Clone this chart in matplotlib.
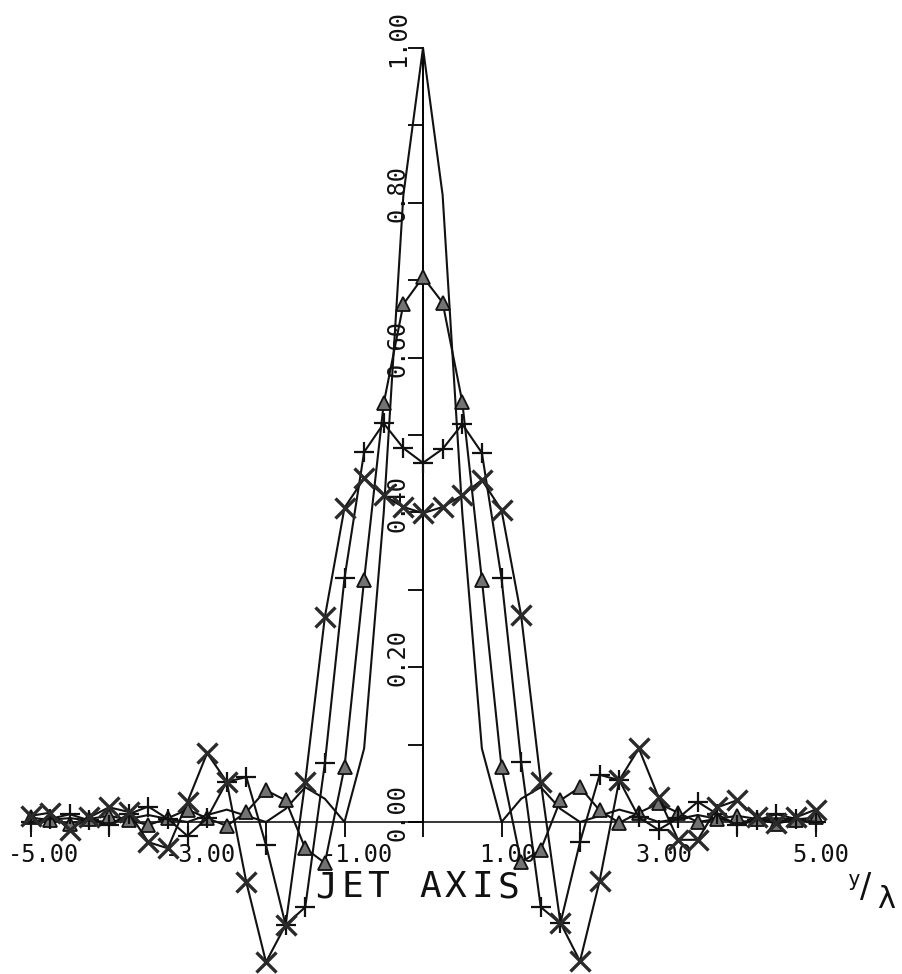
import numpy as np
import matplotlib
matplotlib.use('Agg')
import matplotlib.pyplot as plt

# positions across the jet, y/lambda
y_lam = np.arange(-5.0, 5.0 + 0.125, 0.25)

# plain line (no markers)
plain = [0.0, 0.003, 0.005, 0.002, 0.0, 0.004, 0.009, 0.004, 0.0, 0.009, 0.016, 0.008,
         0.0, 0.017, 0.045, 0.03, 0.0, 0.095, 0.40, 0.81, 1.0,
         0.81, 0.40, 0.095, 0.0, 0.03, 0.045, 0.017, 0.0, 0.008, 0.016, 0.009,
         0.0, 0.004, 0.009, 0.004, 0.0, 0.002, 0.005, 0.003, 0.0]

# triangles
tri = [0.006, 0.002, -0.002, 0.004, 0.008, 0.003, -0.004, 0.005, 0.016, 0.005, -0.005, 0.013,
       0.041, 0.028, -0.034, -0.053, 0.071, 0.313, 0.541, 0.669, 0.704,
       0.671, 0.543, 0.313, 0.071, -0.052, -0.036, 0.028, 0.045, 0.015, -0.001, 0.012,
       0.024, 0.012, 0.0, 0.004, 0.008, 0.004, -0.002, 0.003, 0.006]

# plus signs
plus = [0.0, 0.004, 0.010, 0.002, -0.004, 0.010, 0.020, 0.004, -0.018, 0.005, 0.052, 0.058,
        -0.030, -0.133, -0.110, 0.076, 0.315, 0.478, 0.515, 0.483, 0.464,
        0.482, 0.514, 0.477, 0.315, 0.078, -0.110, -0.131, -0.026, 0.061, 0.054, 0.006,
        -0.010, 0.005, 0.026, 0.010, -0.004, 0.002, 0.010, 0.004, 0.0]

# crosses
cross = [0.008, 0.012, -0.010, 0.006, 0.019, 0.013, -0.026, -0.034, 0.026, 0.089, 0.052, -0.078,
         -0.181, -0.133, 0.052, 0.265, 0.406, 0.444, 0.422, 0.407, 0.399,
         0.407, 0.422, 0.442, 0.403, 0.267, 0.052, -0.130, -0.180, -0.076, 0.054, 0.095,
         0.032, -0.023, -0.023, 0.019, 0.028, 0.006, -0.001, 0.006, 0.016]

x_tick_values = [-5, -3, -1, 1, 3, 5]
x_tick_labels = ['-5.00', '-3.00', '-1.00', '1.00', '3.00', '5.00']
y_tick_values = [0.0, 0.2, 0.4, 0.6, 0.8, 1.0]
y_tick_labels = ['0.00', '0.20', '0.40', '0.60', '0.80', '1.00']

W, H = 902, 974
X0, SX = 423.0, 78.5     # pixel of x=0, pixels per unit
Y0, SY = 822.0, 774.0    # pixel of y=0, pixels per unit

def px_x(p):
    return (p - X0) / SX

def px_y(p):
    return (Y0 - p) / SY

fig = plt.figure(figsize=(W / 100, H / 100), dpi=100)
ax = fig.add_axes([0, 0, 1, 1])
ax.set_xlim(px_x(0), px_x(W))
ax.set_ylim(px_y(H), px_y(0))

ax.spines['top'].set_visible(False)
ax.spines['right'].set_visible(False)
ax.spines['left'].set_position(('data', 0))
ax.spines['bottom'].set_position(('data', 0))
ax.spines['left'].set_bounds(0, 1.0)
ax.spines['bottom'].set_bounds(-5, 5)
ax.spines['left'].set_linewidth(1.4)
ax.spines['bottom'].set_linewidth(1.1)
ax.set_xticks(np.arange(-5, 6, 1))
ax.set_xticklabels([])
ax.set_yticks(np.arange(0, 1.05, 0.1))
ax.set_yticklabels([])
ax.tick_params(axis='both', direction='out', length=11, width=1.3)

lc = '#111111'
ax.plot(y_lam, plain, color=lc, lw=1.5, zorder=3)
ax.plot(y_lam, tri, color=lc, lw=1.5, marker='^', ms=10, mfc='0.45', mec=lc, mew=1.3, zorder=4)
ax.plot(y_lam, plus, color=lc, lw=1.5, marker='+', ms=14, mew=1.6, zorder=4)
ax.plot(y_lam, cross, color=lc, lw=1.5, marker='x', ms=14, mew=2.4, mec='#2a2a2a', zorder=4)

mono = 'DejaVu Sans Mono'
for v, lab in zip(x_tick_values, x_tick_labels):
    ax.text(v - 0.29, px_y(855), lab, ha='left', va='center', fontsize=17,
            family=mono, color=lc)

for v, lab in zip(y_tick_values, y_tick_labels):
    ax.text(px_x(398), v + 0.012, lab, ha='center', va='center', rotation=90,
            fontsize=17, family=mono, color=lc)

# axis title
for i, ch in enumerate('JET AXIS'):
    ax.text(px_x(326 + 26 * i), px_y(887), ch, ha='center', va='center',
            fontsize=26, family=mono, color=lc)

ax.text(px_x(854), px_y(880), 'y', ha='center', va='center', fontsize=15, family=mono, color=lc)
ax.text(px_x(866), px_y(888), '/', ha='center', va='center', fontsize=24, family='DejaVu Sans', color=lc)
ax.text(px_x(886), px_y(899), 'λ', ha='center', va='center', fontsize=22, family='DejaVu Sans', color=lc)

plt.savefig('out.png', dpi=100)
